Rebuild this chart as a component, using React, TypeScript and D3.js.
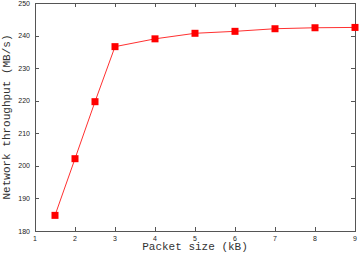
import React from "react";
import * as d3 from "d3";

const packetSize = [1.5, 2, 2.5, 3, 4, 5, 6, 7, 8, 9];
const throughput = [184.8, 202.2, 219.7, 236.6, 239.0, 240.7, 241.3, 242.1, 242.4, 242.5];
const xTicks = [1, 2, 3, 4, 5, 6, 7, 8, 9];
const yTicks = [180, 190, 200, 210, 220, 230, 240, 250];

const W = 359, H = 253;
const L = 35, R = 355, T = 3, B = 231;

export default function App() {
  const x = d3.scaleLinear().domain([1, 9]).range([L, R]);
  const y = d3.scaleLinear().domain([180, 250]).range([B, T]);
  const line = d3.line<number>().x((_, i) => x(packetSize[i])).y((d) => y(d));
  const tk = 4;
  const ms = 7;
  return (
    <svg width={W} height={H} style={{ position: "absolute", left: 0, top: 0, background: "#fff" }}>
      <g stroke="#555" strokeWidth={1} fill="none" shapeRendering="crispEdges">
        <rect x={L + 0.5} y={T + 0.5} width={R - L} height={B - T} />
        {xTicks.map((t) => (
          <g key={"x" + t}>
            <line x1={Math.round(x(t)) + 0.5} x2={Math.round(x(t)) + 0.5} y1={B} y2={B - tk} />
            <line x1={Math.round(x(t)) + 0.5} x2={Math.round(x(t)) + 0.5} y1={T} y2={T + tk} />
          </g>
        ))}
        {yTicks.map((t) => (
          <g key={"y" + t}>
            <line x1={L} x2={L + tk} y1={Math.round(y(t)) + 0.5} y2={Math.round(y(t)) + 0.5} />
            <line x1={R} x2={R - tk} y1={Math.round(y(t)) + 0.5} y2={Math.round(y(t)) + 0.5} />
          </g>
        ))}
      </g>
      <g fontFamily="Liberation Sans, Arial, sans-serif" fontSize={7} fill="#222">
        {xTicks.map((t) => (
          <text key={"xl" + t} x={x(t)} y={241} textAnchor="middle">{t}</text>
        ))}
        {yTicks.map((t) => (
          <text key={"yl" + t} x={30} y={y(t) + 2.5} textAnchor="end">{t}</text>
        ))}
      </g>
      <text x={(L + R) / 2} y={250} textAnchor="middle" fontFamily="Liberation Mono, DejaVu Sans Mono, monospace" fontSize={11} fill="#333">
        Packet size (kB)
      </text>
      <text transform={`translate(10,${(T + B) / 2}) rotate(-90)`} textAnchor="middle" fontFamily="Liberation Mono, DejaVu Sans Mono, monospace" fontSize={11} fill="#333">
        Network throughput (MB/s)
      </text>
      <path d={line(throughput) || ""} fill="none" stroke="#ff3030" strokeWidth={1} />
      {throughput.map((v, i) => (
        <rect key={i} x={x(packetSize[i]) - ms / 2} y={y(v) - ms / 2} width={ms} height={ms} fill="#ff0000" />
      ))}
    </svg>
  );
}
